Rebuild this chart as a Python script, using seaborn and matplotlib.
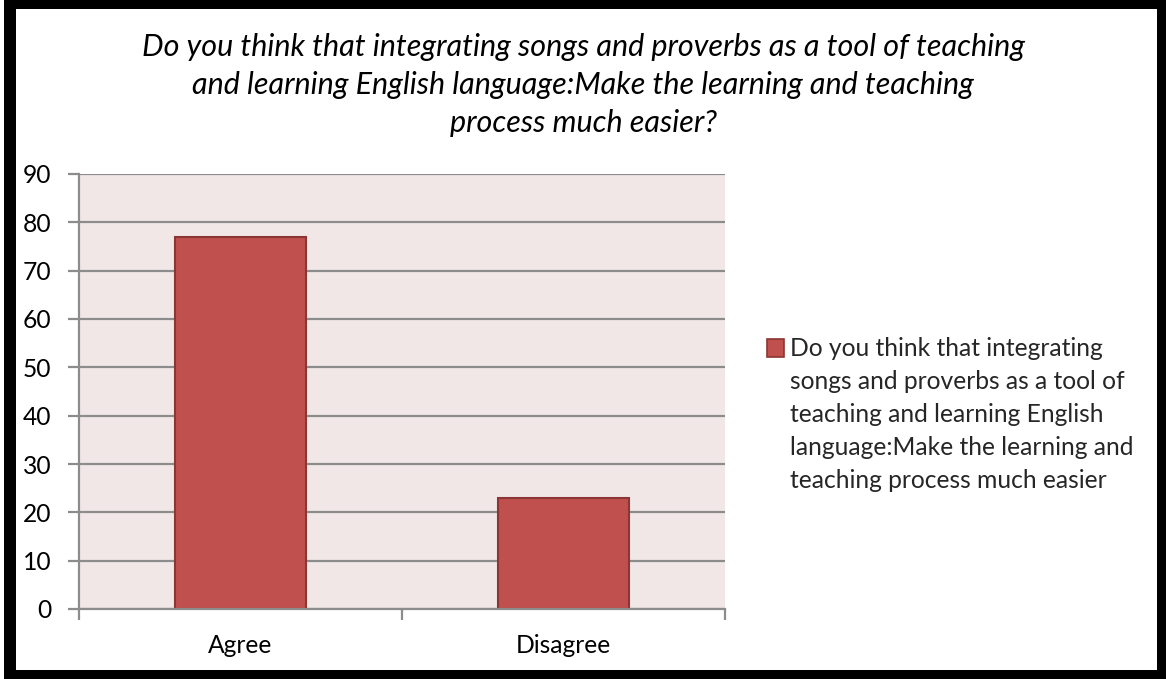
import matplotlib
matplotlib.use("Agg")
import matplotlib.pyplot as plt
from matplotlib.patches import Rectangle, Patch
from matplotlib.legend_handler import HandlerPatch
import seaborn as sns

categories = ["Agree", "Disagree"]
values = [77, 23]
yticks = [0, 10, 20, 30, 40, 50, 60, 70, 80, 90]
title = ("Do you think that integrating songs and proverbs as a tool of teaching\n"
         "and learning English language:Make the learning and teaching\n"
         "process much easier?")
series_label = ("Do you think that integrating\n"
                "songs and proverbs as a tool of\n"
                "teaching and learning English\n"
                "language:Make the learning and\n"
                "teaching process much easier")

sns.set_theme(style="white")
plt.rcParams["font.family"] = ["Lato", "DejaVu Sans"]

W, H = 1166, 679
TXT = 17.7
fig = plt.figure(figsize=(W / 100, H / 100), dpi=100)
fig.patch.set_facecolor("white")

# black frame around a white panel
fig.patches.append(Rectangle((4 / W, 0), 1 - 4 / W, 1, transform=fig.transFigure,
                             facecolor="black", edgecolor="none", zorder=-10))
fig.patches.append(Rectangle((16 / W, 9 / H), (1157 - 16) / W, (670 - 9) / H,
                             transform=fig.transFigure, facecolor="white",
                             edgecolor="none", zorder=-9))

ax = fig.add_axes([79 / W, (H - 609) / H, (725 - 79) / W, (609 - 174) / H])
ax.set_facecolor("#F2E7E7")

bar_color = "#C0504D"
edge_color = "#8B3634"
sns.barplot(x=categories, y=values, color=bar_color, saturation=1, width=0.405,
            edgecolor=edge_color, linewidth=1.5, ax=ax, zorder=3)

ax.set_xlim(-0.5, 1.5)
ax.set_ylim(0, 90)
ax.set_yticks(yticks)
ax.set_yticklabels([str(v) for v in yticks], fontsize=TXT, color="black")
ax.yaxis.grid(True, color="#8C8C8C", linewidth=1.6, zorder=0)
ax.set_axisbelow(True)
ax.set_xlabel("")
ax.set_ylabel("")

for s in ["top", "right"]:
    ax.spines[s].set_visible(False)
for s in ["left", "bottom"]:
    ax.spines[s].set_color("#8C8C8C")
    ax.spines[s].set_linewidth(1.6)
    ax.spines[s].set_zorder(4)

ax.tick_params(axis="y", which="major", direction="out", length=8, width=1.6,
               color="#8C8C8C", pad=12, left=True)
ax.tick_params(axis="x", which="major", length=0, pad=18, labelsize=TXT,
               labelcolor="black")
ax.set_xticks([-0.5, 0.5, 1.5], minor=True)
ax.tick_params(axis="x", which="minor", direction="out", length=8, width=1.6,
               color="#8C8C8C", bottom=True)

fig.text(583 / W, 1 - 85 / H, title, ha="center", va="center", fontsize=22,
         style="italic", color="black", linespacing=1.43)


class FirstLineSquare(HandlerPatch):
    """Square legend key placed beside the first line of a multi-line label."""

    def __init__(self, lift, **kw):
        super().__init__(**kw)
        self.lift = lift

    def create_artists(self, legend, orig_handle, xdescent, ydescent, width,
                       height, fontsize, trans):
        p = Rectangle((-xdescent, -ydescent + self.lift), width, height)
        self.update_prop(p, orig_handle, legend)
        p.set_transform(trans)
        return [p]


LEG_SPACING = 1.53
n_lines = series_label.count("\n") + 1
line_pitch_pt = 23.1
handle = Patch(facecolor=bar_color, edgecolor=edge_color, linewidth=1.2)
leg = fig.legend([handle], [series_label], loc="upper left",
                 bbox_to_anchor=(767 / W, 1 - 337 / H), frameon=False,
                 fontsize=TXT, handlelength=0.7, handleheight=0.7,
                 handletextpad=0.25, borderpad=0, borderaxespad=0,
                 labelspacing=0,
                 handler_map={Patch: FirstLineSquare(lift=(n_lines - 1) / 2 * line_pitch_pt + 2.5)})
for t in leg.get_texts():
    t.set_linespacing(LEG_SPACING)

fig.savefig("out.png", dpi=100, facecolor="white")
